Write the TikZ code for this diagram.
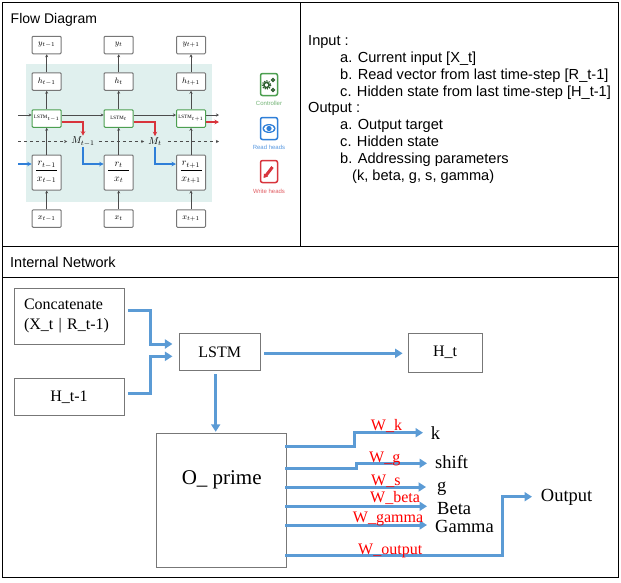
\documentclass[tikz,border=0pt]{standalone}
\usepackage{fontspec}
\setmainfont{Liberation Serif}
\newfontfamily\arialfont{Liberation Sans}
\usetikzlibrary{arrows.meta, positioning}
\definecolor{panelteal}{HTML}{E0F0EE}
\definecolor{boxgray}{HTML}{777777}
\definecolor{ctrlgreen}{HTML}{4C9F50}
\definecolor{readblue}{HTML}{2F7FD8}
\definecolor{writered}{HTML}{D8343C}
\definecolor{flowblue}{HTML}{5B9BD5}
\newcommand{\cellfrac}[2]{$\displaystyle\frac{\makebox[21pt]{$#1$}\rule[-2.5pt]{0pt}{3pt}}{\rule{0pt}{9.5pt}#2}$}
\tikzset{
  x=1pt, y=-1pt,
  cellbox/.style={draw=boxgray, line width=1pt, rounded corners=1pt, fill=white, minimum width=29pt, minimum height=17.5pt, inner sep=0pt, font=\fontsize{8.5}{10}\selectfont},
  lstmbox/.style={cellbox, draw=ctrlgreen, font=\fontsize{5}{6}\selectfont},
  fracbox/.style={cellbox, minimum height=35pt, font=\fontsize{10}{11}\selectfont},
  membox/.style={inner xsep=4pt, inner ysep=1pt, font=\fontsize{10}{11}\selectfont},
  iconbox/.style={draw=#1, line width=1.5pt, rounded corners=2pt, minimum width=17pt, minimum height=22pt, inner sep=0pt},
  thinarrow/.style={-{Stealth[length=3pt,width=3pt]}, line width=0.8pt, draw=black!70},
  redarrow/.style={-{Stealth[length=4.5pt,width=4.5pt]}, line width=1.4pt, draw=writered},
  bluearrow/.style={-{Stealth[length=4.5pt,width=4.5pt]}, line width=1.4pt, draw=readblue},
  flowarrow/.style={-{Triangle[length=7.5pt,width=9pt]}, line width=3pt, draw=flowblue},
  headline/.style={anchor=base west, inner sep=0pt, font=\arialfont\fontsize{14}{15}\selectfont},
  bodyline/.style={anchor=base west, inner sep=0pt, font=\arialfont\fontsize{14.6}{15}\selectfont},
  legend/.style={inner sep=0pt, font=\arialfont\fontsize{6}{7}\selectfont},
  netbox/.style={draw=boxgray, line width=0.8pt, inner sep=0pt, align=center, font=\fontsize{16}{20}\selectfont},
  outlabel/.style={anchor=base west, inner sep=0pt, font=\fontsize{18.5}{20}\selectfont},
  weightlabel/.style={anchor=base west, inner sep=0pt, text=red, font=\fontsize{16}{18}\selectfont},
}
\begin{document}
\begin{tikzpicture}
  \useasboundingbox (0,0) rectangle (621,582);

  % الإطار
  \draw[line width=1pt] (2.5,2.5) rectangle (618,577.5);
  \draw[line width=1pt] (300.5,2.5) -- (300.5,246);
  \draw[line width=1pt] (2.5,246) -- (618,246);
  \draw[line width=1pt] (2.5,277) -- (618,277);

  % العناوين
  \node[headline] (flowtitle) at (10.5,23) {Flow Diagram};
  \node[headline, font=\arialfont\fontsize{14.5}{15}\selectfont] (nettitle) at (10,267) {Internal Network};

  % الخلفية
  \fill[panelteal] (26,64) rectangle (212,202);

  % الخلايا
  \node[cellbox] (yA) at (46.7,45) {$y_{t-1}$};
  \node[cellbox] (yB) at (118.7,45) {$y_{t}$};
  \node[cellbox] (yC) at (191,45) {$y_{t+1}$};
  \node[cellbox] (hA) at (46.7,81.5) {$h_{t-1}$};
  \node[cellbox] (hB) at (118.7,81.5) {$h_{t}$};
  \node[cellbox] (hC) at (191,81.5) {$h_{t+1}$};
  \node[lstmbox] (lstmA) at (46.7,118.5) {LSTM$_{t-1}$};
  \node[lstmbox] (lstmB) at (118.7,118.5) {LSTM$_{t}$};
  \node[lstmbox] (lstmC) at (191,118.5) {LSTM$_{t+1}$};
  \node[fracbox] (rxA) at (46.7,172.5) {\cellfrac{r_{t-1}}{x_{t-1}}};
  \node[fracbox] (rxB) at (118.7,172.5) {\cellfrac{r_{t}}{x_{t}}};
  \node[fracbox] (rxC) at (191,172.5) {\cellfrac{r_{t+1}}{x_{t+1}}};
  \node[cellbox] (xA) at (46.7,218.5) {$x_{t-1}$};
  \node[cellbox] (xB) at (118.7,218.5) {$x_{t}$};
  \node[cellbox] (xC) at (191,218.5) {$x_{t+1}$};

  % الذاكرة
  \node[membox] (memA) at (83,141.5) {$M_{t-1}$};
  \node[membox] (memB) at (155,141.5) {$M_{t}$};

  % الأسهم الرأسية
  \draw[thinarrow] (xA) -- (rxA);
  \draw[thinarrow] (xB) -- (rxB);
  \draw[thinarrow] (xC) -- (rxC);
  \draw[thinarrow] (rxA) -- (lstmA);
  \draw[thinarrow] (rxB) -- (lstmB);
  \draw[thinarrow] (rxC) -- (lstmC);
  \draw[thinarrow] (lstmA) -- (hA);
  \draw[thinarrow] (lstmB) -- (hB);
  \draw[thinarrow] (lstmC) -- (hC);
  \draw[thinarrow] (hA) -- (yA);
  \draw[thinarrow] (hB) -- (yB);
  \draw[thinarrow] (hC) -- (yC);

  % الأسهم الأفقية
  \coordinate (lstmin) at (18,115);
  \coordinate (lstmout) at (219,115);
  \draw[thinarrow] (lstmin) -- (lstmin -| lstmA.west);
  \draw[thinarrow] (lstmin -| lstmA.east) -- (lstmin -| lstmB.west);
  \draw[thinarrow] (lstmin -| lstmB.east) -- (lstmin -| lstmC.west);
  \draw[thinarrow] (lstmin -| lstmC.east) -- (lstmout);

  % الخطوط المتقطعة
  \coordinate (dashin) at (18,141.5);
  \coordinate (dashout) at (219,141.5);
  \draw[thinarrow, dashed] (dashin) -- (memA.west);
  \draw[thinarrow, dashed] (memA.east) -- (memB.west);
  \draw[thinarrow, dashed] ([xshift=2pt]memB.east) -- (dashout);

  % رؤوس الكتابة
  \coordinate (writeout) at (219,122);
  \draw[redarrow] (writeout -| lstmA.east) -| (memA.north);
  \draw[redarrow] (writeout -| lstmB.east) -| (memB.north);
  \draw[redarrow] (writeout -| lstmC.east) -- (writeout);

  % رؤوس القراءة
  \coordinate (readin) at (18,164);
  \draw[bluearrow] (readin) -- (readin -| rxA.west);
  \draw[bluearrow] (memA.south) |- (readin -| rxB.west);
  \draw[bluearrow] (memB.south) |- (readin -| rxC.west);

  % مفتاح الرسم
  \node[iconbox=ctrlgreen] (ctrlicon) at (269,84.5) {};
  \node[iconbox=readblue] (readicon) at (269,128.5) {};
  \node[iconbox=writered] (writeicon) at (269,171.5) {};
  \node[legend, text=ctrlgreen!80] (ctrltext) at (269,103) {Controller};
  \node[legend, text=readblue!80] (readtext) at (269,147) {Read heads};
  \node[legend, text=writered!80] (writetext) at (269,191) {Write heads};
  \draw[ctrlgreen!60!black, line width=1.6pt] (266.5,85) circle (2.6);
  \draw[ctrlgreen!60!black, line width=1.2pt, dash pattern=on 1.2pt off 1.2pt] (266.5,85) circle (4.2);
  \draw[ctrlgreen!60!black, line width=1.2pt] (273,80) circle (1.5);
  \draw[ctrlgreen!60!black, line width=1.2pt] (273,90) circle (1.5);
  \fill[readblue] (269,128.5) ellipse (6.5 and 4.5);
  \fill[white] (269,128.5) ellipse (5 and 3.3);
  \fill[readblue] (269,128.5) circle (2.6);
  \draw[writered, line width=3pt] (266,175.5) -- (272.5,167);
  \fill[writered] (263.5,178) -- (264,173.5) -- (268,176.5) -- cycle;

  % المدخلات والمخرجات
  \node[bodyline] (inhead) at (308,45) {Input :};
  \node[bodyline] (ina) at (340,62) {a. Current input [X\_t]};
  \node[bodyline] (inb) at (340,79) {b. Read vector from last time-step [R\_t-1]};
  \node[bodyline] (inc) at (340,96) {c. Hidden state from last time-step [H\_t-1]};
  \node[bodyline] (outhead) at (308,112) {Output :};
  \node[bodyline] (outa) at (340,129) {a. Output target};
  \node[bodyline] (outc) at (340,146) {c. Hidden state};
  \node[bodyline] (outb) at (340,163) {b. Addressing parameters};
  \node[bodyline] (outp) at (352,180) {(k, beta, g, s, gamma)};

  % الشبكة الداخلية
  \node[netbox, align=left, inner xsep=10pt, text width=90pt, minimum width=110pt, minimum height=56pt] (concat) at (69,316.3) {Concatenate\\(X\_t | R\_t-1)};
  \node[netbox, minimum width=110pt, minimum height=37.5pt] (hprev) at (69,397) {H\_t-1};
  \node[netbox, minimum width=80.7pt, minimum height=37pt] (lstm) at (219.7,352.2) {LSTM};
  \node[netbox, minimum width=74pt, minimum height=39pt] (hnext) at (445,352.5) {H\_t};
  \node[netbox, minimum width=130pt, minimum height=134pt] (oprime) at (221.7,500.7) {};
  \node[inner sep=0pt, anchor=base, font=\fontsize{21}{24}\selectfont] (oprimetext) at (221.7,484) {O\_ prime};

  % الأسهم الزرقاء
  \draw[flowarrow] ([xshift=3.5pt,yshift=6.3pt]concat.east) -- ++(23,0) |- ([xshift=-6.5pt,yshift=8.2pt]lstm.west);
  \draw[flowarrow] ([xshift=3.5pt,yshift=3.7pt]hprev.east) -- ++(23,0) |- ([xshift=-6.5pt,yshift=-4.1pt]lstm.west);
  \draw[flowarrow] ([xshift=-4pt,yshift=-3pt]lstm.south) -- ([xshift=-6pt,yshift=1.5pt]oprime.north);
  \draw[flowarrow] ([xshift=4pt,yshift=-1.1pt]lstm.east) -- ([xshift=-5pt,yshift=-0.8pt]hnext.west);

  % مخارج المعاملات
  \node[outlabel] (klabel) at (430.7,439) {k};
  \node[outlabel] (shiftlabel) at (435,468) {shift};
  \node[outlabel] (glabel) at (437,491) {g};
  \node[outlabel] (betalabel) at (437,514) {Beta};
  \node[outlabel] (gammalabel) at (435,532) {Gamma};
  \node[outlabel] (outputlabel) at (540.7,501.7) {Output};
  \coordinate (kstart) at (285,446.3);
  \coordinate (shiftstart) at (285,468.3);
  \coordinate (gstart) at (285,487);
  \coordinate (betastart) at (285,506.3);
  \coordinate (gammastart) at (285,525);
  \coordinate (outputstart) at (285,555.7);
  \draw[flowarrow] (kstart) -- (354,446.3) |- (423,432.7);
  \draw[flowarrow] (shiftstart) -- (356.7,468.3) |- (427,463.3);
  \draw[flowarrow] (gstart) -- (426,487);
  \draw[flowarrow] (betastart) -- (427,506.3);
  \draw[flowarrow] (gammastart) -- (427,525);
  \draw[flowarrow] (outputstart) -- (502.3,555.7) |- (532,496.7);

  % تسميات الأوزان
  \node[weightlabel] (wk) at (370.7,430.7) {W\_k};
  \node[weightlabel] (wg) at (369,462) {W\_g};
  \node[weightlabel] (ws) at (371,485) {W\_s};
  \node[weightlabel] (wbeta) at (370,502) {W\_beta};
  \node[weightlabel] (wgamma) at (352.7,522.7) {W\_gamma};
  \node[weightlabel] (woutput) at (358,554) {W\_output};
\end{tikzpicture}
\end{document}
